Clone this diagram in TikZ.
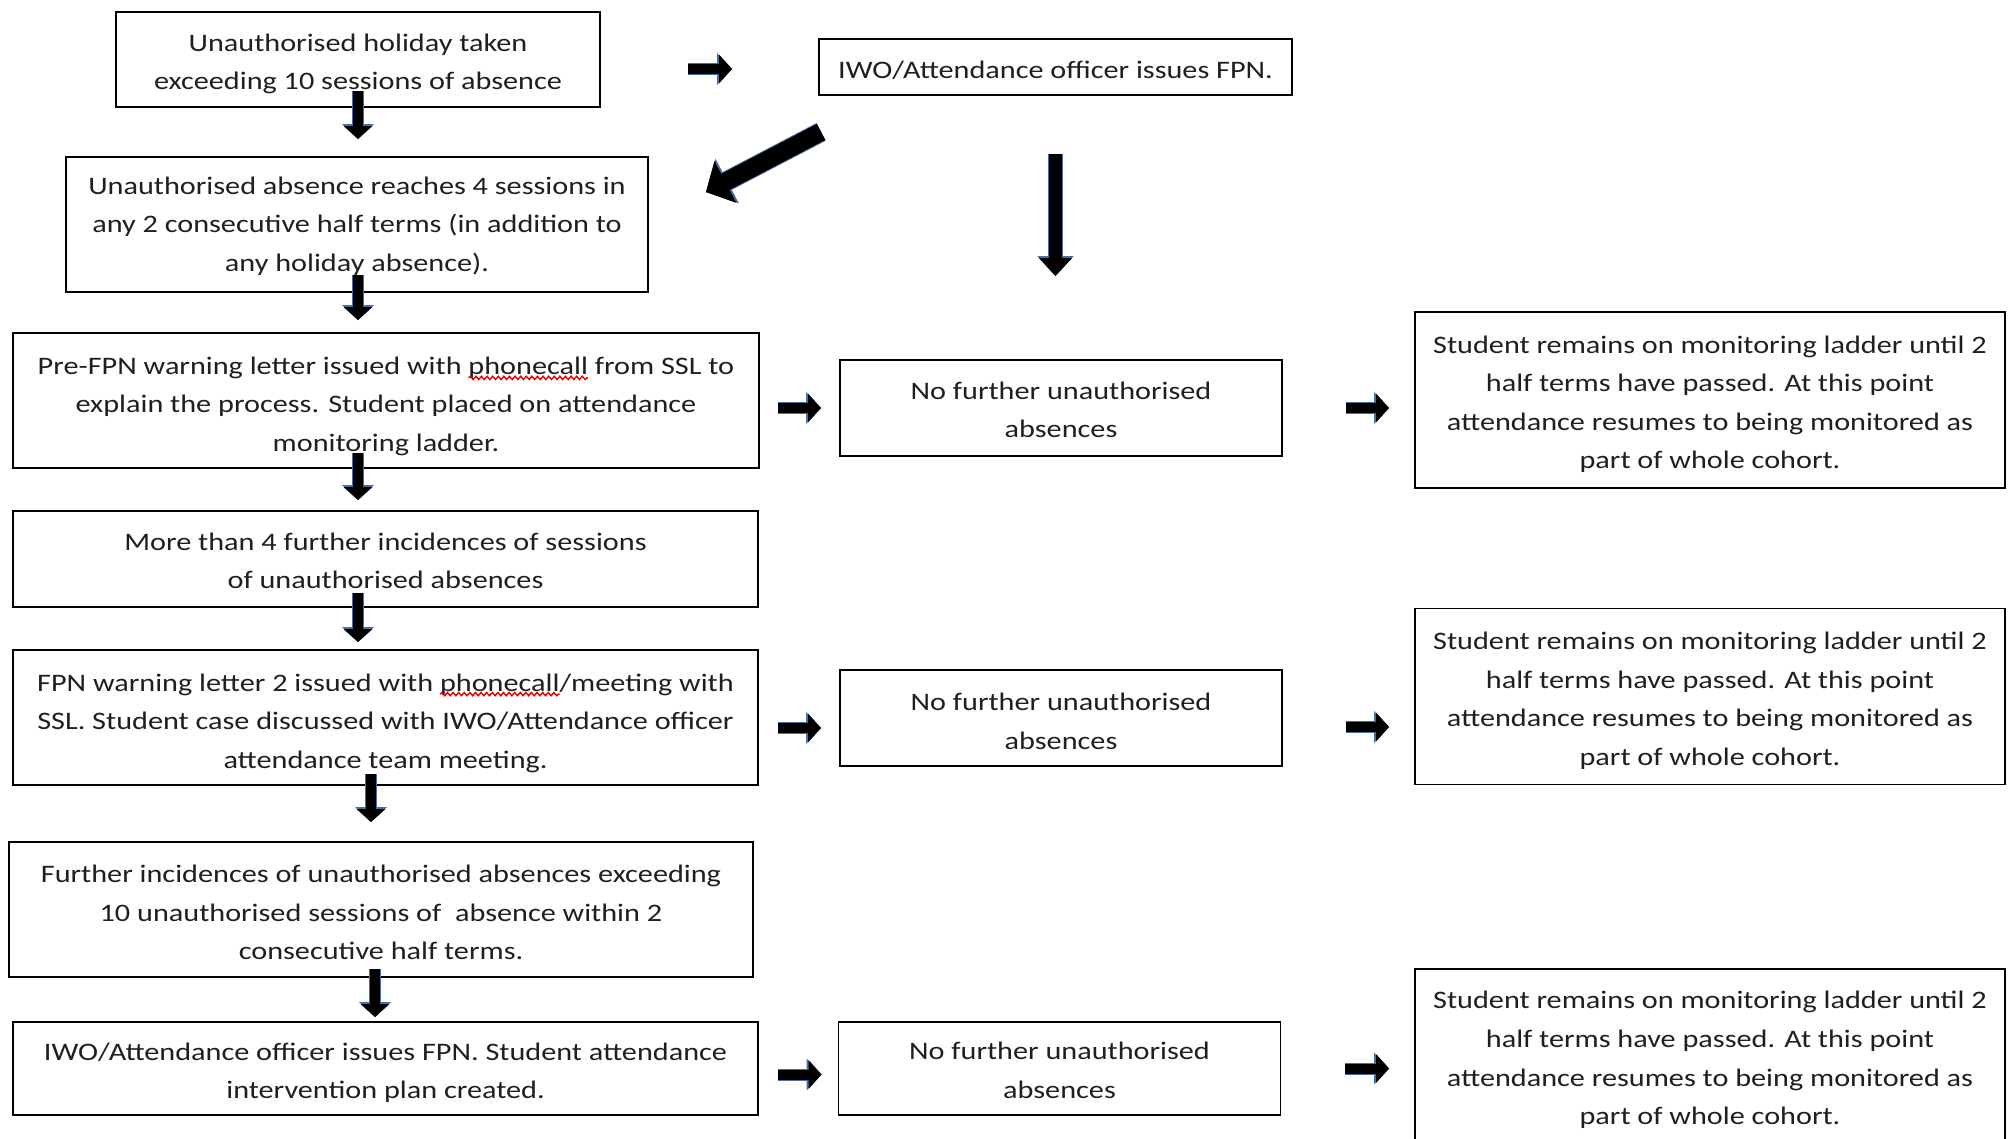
\documentclass[tikz,border=0pt]{standalone}
\usepackage{fontspec}
\setmainfont{Carlito}[FakeStretch=1.2]
\usepackage{xcolor}
\usetikzlibrary{calc,arrows.meta,decorations.pathmorphing}
\definecolor{halo}{RGB}{70,110,165}
\newcommand\boxfont{\fontsize{12.6}{19.3}\selectfont}
\newcommand\lift[1]{\rule{0pt}{#1}}
\newlength\spellword
\newlength\spellxa
\newlength\spellxb
\newlength\spelltmp

\begin{document}
% where the spelling marks go on the first lines
\settowidth\spellword{\boxfont phonecall}
\settowidth\spelltmp{\boxfont Pre-FPN warning letter issued with phonecall from SSL to}
\settowidth\spellxa{\boxfont Pre-FPN warning letter issued with }
\setlength\spellxa{\dimexpr\spellxa-\spelltmp/2\relax}
\settowidth\spelltmp{\boxfont FPN warning letter 2 issued with phonecall/meeting with}
\settowidth\spellxb{\boxfont FPN warning letter 2 issued with }
\setlength\spellxb{\dimexpr\spellxb-\spelltmp/2\relax}

\begin{tikzpicture}[x=0.5pt, y=-0.5pt,
        stepbox/.style={draw=black, line width=0.9pt, inner sep=0pt, align=center,
            font=\boxfont, text=black!88},
        noabs/.style={stepbox, minimum width=221pt, minimum height=48pt},
        stay/.style={stepbox, minimum width=295pt, minimum height=88pt},
        spellwave/.style={draw=red!90!black, line width=0.7pt, decorate,
            decoration={snake, amplitude=0.8pt, segment length=2.8pt}}]
    \useasboundingbox (0,0) rectangle (2015,1139);

    \node[stepbox, minimum width=242pt, minimum height=47.5pt] (H) at (358,59.5) {\lift{13pt}Unauthorised holiday taken\\exceeding 10 sessions of absence};
    \node[stepbox, minimum width=236.5pt, minimum height=28pt] (O) at (1055.5,67) {\lift{11.8pt}IWO/Attendance officer issues FPN.};
    \node[stepbox, minimum width=291pt, minimum height=67.5pt] (U) at (357,224.5) {\lift{10.4pt}Unauthorised absence reaches 4 sessions in\\any 2 consecutive half terms (in addition to\\any holiday absence).};
    \node[stepbox, minimum width=373pt, minimum height=67.5pt] (P) at (386,400.5) {\lift{14.4pt}Pre-FPN warning letter issued with phonecall from SSL to\\explain the process. Student placed on attendance\\monitoring ladder.};
    \node[stepbox, minimum width=372.5pt, minimum height=48pt] (M) at (385.5,559) {\lift{10.4pt}More than 4 further incidences of sessions\\of unauthorised absences};
    \node[stepbox, minimum width=372.5pt, minimum height=67.5pt] (W) at (385.5,717.5) {\lift{14.4pt}FPN warning letter 2 issued with phonecall/meeting with\\SSL. Student case discussed with IWO/Attendance officer\\attendance team meeting.};
    \node[stepbox, minimum width=372pt, minimum height=67.5pt] (F) at (381,909.5) {\lift{11.8pt}Further incidences of unauthorised absences exceeding\\10 unauthorised sessions of~ absence within 2\\consecutive half terms.};
    \node[stepbox, minimum width=372.5pt, minimum height=46.5pt] (I) at (385.5,1068.5) {\lift{13pt}IWO/Attendance officer issues FPN. Student attendance\\intervention plan created.};

    \node[noabs] (N1) at (1061,408) {\lift{10.4pt}No further unauthorised\\absences};
    \node[noabs] (N2) at (1061,718) {\lift{11.8pt}No further unauthorised\\absences};
    \node[noabs, minimum height=46.5pt] (N3) at (1059.5,1068.5) {\lift{10.4pt}No further unauthorised\\absences};

    \node[stay] (S1) at (1710,400) {\lift{13pt}Student remains on monitoring ladder until 2\\half terms have passed. At this point\\attendance resumes to being monitored as\\part of whole cohort.};
    \node[stay] (S2) at (1710,696.5) {\lift{13pt}Student remains on monitoring ladder until 2\\half terms have passed. At this point\\attendance resumes to being monitored as\\part of whole cohort.};
    \node[stay] (S3) at (1710,1057) {\lift{11.8pt}Student remains on monitoring ladder until 2\\half terms have passed. At this point\\attendance resumes to being monitored as\\part of whole cohort.};

    % spelling marks under "phonecall"
    \draw[spellwave] ($(P.center)+(\spellxa,11.3pt)$) -- ++(\spellword,0pt);
    \draw[spellwave] ($(W.center)+(\spellxb,11.7pt)$) -- ++(\spellword,0pt);

    \tikzset{blockarrow/.style={line width=5pt, -{Triangle[width=14pt,length=6.5pt]},
        preaction={draw=halo, line width=6pt, -{Triangle[width=15.5pt,length=7.5pt]}}}}
    \tikzset{longarrow/.style={line width=6.5pt, -{Triangle[width=16pt,length=9pt]},
        preaction={draw=halo, line width=7.5pt, -{Triangle[width=17.5pt,length=10pt]}}}}
    \tikzset{diagarrow/.style={line width=9pt, -{Triangle[width=23pt,length=11pt]},
        preaction={draw=halo, line width=10pt, -{Triangle[width=24.5pt,length=12pt]}}}}

    % down the left column
    \draw[blockarrow] ($(H.south)+(0,-17)$) -- ($(H.south |- U.north)+(0,-17)$);
    \draw[blockarrow] ($(H.south |- U.south)+(0,-18)$) -- ($(H.south |- P.north)+(0,-12)$);
    \draw[blockarrow] ($(H.south |- P.south)+(0,-16)$) -- ($(H.south |- M.north)+(0,-10)$);
    \draw[blockarrow] ($(H.south |- M.south)+(0,-15)$) -- ($(H.south |- W.north)+(0,-7)$);
    \draw[blockarrow] ($(H.south |- W.south)+(13,-12)$) -- ($(H.south |- F.north)+(13,-19)$);
    \draw[blockarrow] ($(H.south |- F.south)+(17,-9)$) -- ($(H.south |- I.north)+(17,-4)$);

    % top row
    \draw[blockarrow] ($(H.east |- O.west)+(87,2)$) -- ($(O.west)+(-86,2)$);
    \draw[diagarrow] ($(O.south west)+(3,36)$) -- ($(U.north east)+(57,36)$);
    \draw[longarrow] ($(O.south)+(0,58)$) -- ($(O.south |- N1.north)+(0,-83)$);

    % across to the right
    \draw[blockarrow] ($(P.east |- N1.west)+(18,0)$) -- ($(N1.west)+(-18,0)$);
    \draw[blockarrow] ($(N1.east)+(63,0)$) -- ($(S1.west |- N1.east)+(-25,0)$);
    \draw[blockarrow] ($(W.east |- N2.west)+(19,10)$) -- ($(N2.west)+(-18,10)$);
    \draw[blockarrow] ($(N2.east)+(63,9)$) -- ($(S2.west |- N2.east)+(-25,9)$);
    \draw[blockarrow] ($(I.east |- N3.west)+(19,6)$) -- ($(N3.west)+(-16,6)$);
    \draw[blockarrow] ($(N3.east)+(64,0)$) -- ($(S3.west |- N3.east)+(-25,0)$);

\end{tikzpicture}
\end{document}
